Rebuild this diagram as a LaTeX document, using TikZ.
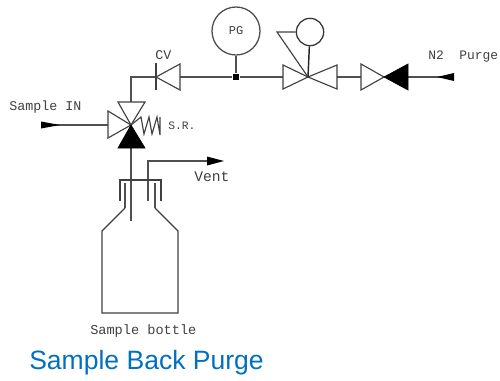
\documentclass[tikz,border=0pt]{standalone}
\usepackage{fontspec}
\setmainfont{Liberation Sans}
\newfontfamily\cadfont{Liberation Mono}
\definecolor{capblue}{RGB}{0,112,192}
\definecolor{pipegray}{RGB}{80,80,80}
\tikzset{
  pipe/.style={draw=pipegray,line width=1.1pt},
  thin outline/.style={draw=black!75,line width=0.85pt,line join=miter},
  solid valve/.style={draw=black,fill=black,line width=0.5pt},
  cad/.style={font=\cadfont\fontsize{10}{12}\selectfont,text=black!75,inner sep=0pt},
  head/.style={fill=black,draw=none},
  gauge/.style={circle,draw=black!70,line width=0.95pt,minimum size=36pt,inner sep=0pt},
  pilot/.style={circle,draw=black!80,line width=0.95pt,minimum size=20.5pt,inner sep=0pt},
  junction/.style={rectangle,fill=black,minimum size=5.2pt,inner sep=0pt}
}
\begin{document}
\begin{tikzpicture}[x=0.75pt,y=-0.75pt]
\useasboundingbox (0,0) rectangle (500,380);
% named points
\coordinate (srcentre) at (131,125);
\coordinate (srtop) at (131,102);
\coordinate (srleft) at (108,125);
\coordinate (srbottom) at (131,148);
\coordinate (elbow) at (131,77);
\coordinate (cvbar) at (156,77);
\coordinate (cvbase) at (180,77);
\coordinate (regcentre) at (308,77);
\coordinate (regleft) at (283,77);
\coordinate (regright) at (337,77);
\coordinate (pilottip) at (277,32);
\coordinate (isoleft) at (361,77);
\coordinate (isocentre) at (384,77);
\coordinate (isoright) at (408,77);
\coordinate (n2end) at (454,77);
\coordinate (n2head) at (437,77);
\coordinate (inend) at (41,125);
\coordinate (inhead) at (60,125);
\coordinate (dipend) at (131,221);
\coordinate (ventbottom) at (148,201);
\coordinate (ventelbow) at (148,161);
\coordinate (venthead) at (207,161);
\coordinate (venttip) at (224,161);
% instruments
\node[gauge,cad,font=\cadfont\fontsize{9}{11}\selectfont] (pg) at (236,31) {PG};
\node[junction] (tee) at (236,77) {};
\node[pilot] (pilotc) at (310,32) {};
% pipes
\draw[pipe] (inend) -- (srleft);
\draw[pipe] (srtop) -- (elbow) -- (cvbar);
\draw[pipe] (cvbase) -- (tee);
\draw[pipe] (tee) -- (regleft);
\draw[pipe] (pg) -- (tee);
\draw[pipe] (regright) -- (isoleft);
\draw[pipe] (isoright) -- (n2end);
\draw[pipe] (srbottom) -- (dipend);
\draw[pipe] (ventbottom) -- (ventelbow) -- (venthead);
% arrowheads
\fill[head] (inend) ++(0,-3.5) -- (inhead) -- (41,128.5) -- cycle;
\fill[head] (n2end) ++(0,-4) -- (n2head) -- (454,81) -- cycle;
\fill[head] (venthead) ++(0,-4.5) -- (venttip) -- (207,165.5) -- cycle;
% selector valve
\draw[thin outline] (srcentre) -- (118,102) -- (145,102) -- cycle;
\draw[thin outline] (srcentre) -- (108,111) -- (108,138) -- cycle;
\draw[solid valve] (srcentre) -- (118,148) -- (145,148) -- cycle;
\draw[thin outline] (srcentre) -- (141,117) -- (144,134) -- (149,117) -- (152,134) -- (157,117) -- (160,135) -- (160,117);
% check valve
\draw[thin outline] (156,63) -- (cvbar) -- (156,90);
\draw[thin outline] (cvbar) -- (180,64) -- (180,90) -- cycle;
% regulator
\draw[thin outline] (regcentre) -- (283,65) -- (283,89) -- cycle;
\draw[thin outline] (regcentre) -- (337,65) -- (337,89) -- cycle;
\draw[pipe,draw=black!85] (pilotc) -- (regcentre);
\draw[thin outline] (pilotc) -- (pilottip) -- (regcentre);
% isolation valve
\draw[thin outline] (isocentre) -- (361,64) -- (361,90) -- cycle;
\draw[solid valve] (isocentre) -- (408,64) -- (408,90) -- cycle;
% bottle
\draw[thin outline] (120,201) -- (120,180) -- (161,180) -- (161,201);
\draw[pipe] (125,183) -- (125,208);
\draw[pipe] (155,183) -- (155,208);
\draw[thin outline] (125,208) -- (102,231) -- (102,313) -- (178,313) -- (178,231) -- (155,208);
% labels
\node[cad,anchor=west] (lblin) at (9,107) {Sample IN};
\node[cad,anchor=west] (lblsr) at (168,125.5) {\fontsize{8.5}{10}\selectfont S.R.};
\node[cad,anchor=west] (lblcv) at (155,55.5) {CV};
\node[cad,anchor=west] (lbln2) at (428,57) {\fontsize{9.7}{12}\selectfont N2\ \ Purge};
\node[cad,anchor=west] (lblvent) at (194,177) {\fontsize{11}{12}\selectfont Vent};
\node[cad,anchor=west] (lblbottle) at (90,331) {\fontsize{10.2}{12}\selectfont Sample bottle};
\node[anchor=west,inner sep=0pt,text=capblue,font=\fontsize{19.9}{24}\selectfont] (caption) at (29,363) {Sample Back Purge};
\end{tikzpicture}
\end{document}
